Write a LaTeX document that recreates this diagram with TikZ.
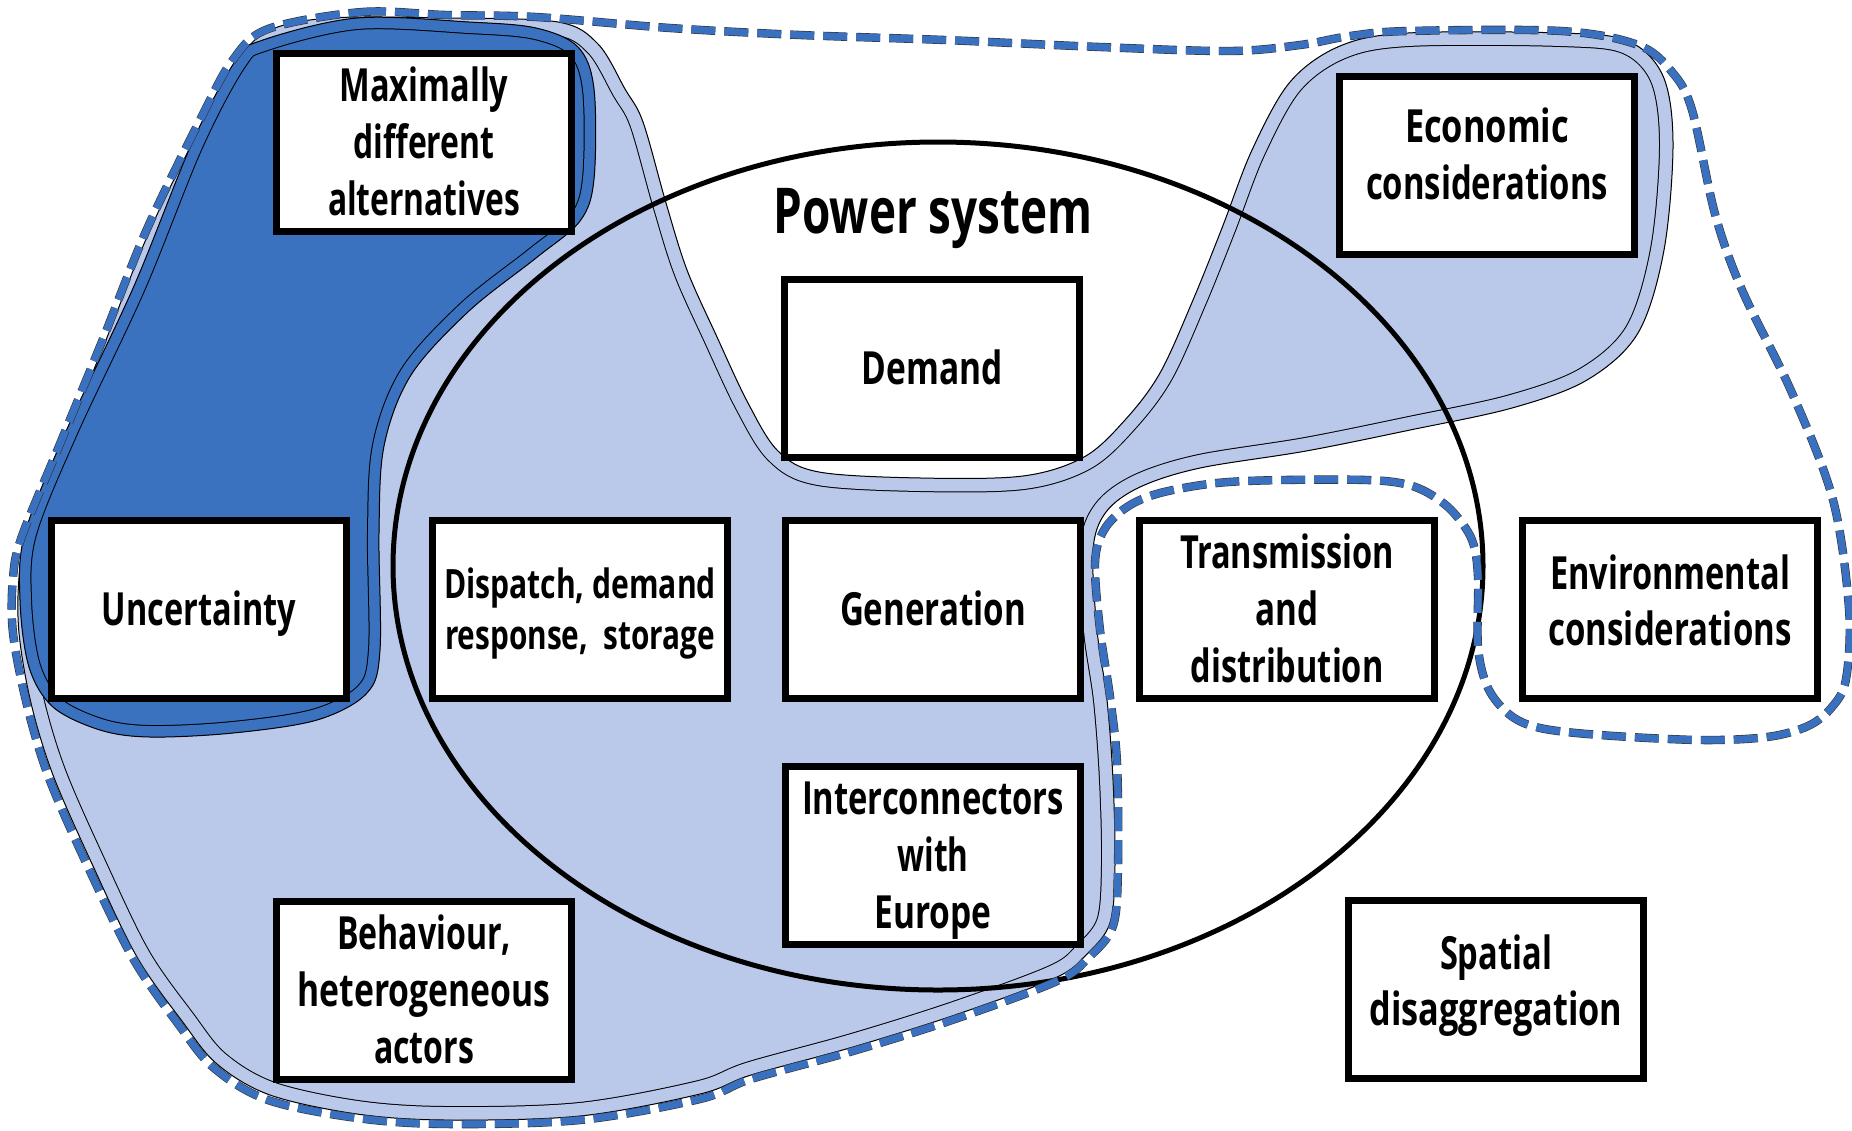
\documentclass[tikz,border=0pt]{standalone}
\usepackage{fontspec}
\setmainfont{Open Sans}
\usepackage{graphicx}
% one text line squeezed to a given width, keeping its height;
% a fixed strut keeps every line the same height and depth
\newcommand\fw[2]{\rule[-0.05em]{0pt}{0.82em}\smash{\resizebox{#1}{\height}{#2}}}

\definecolor{lightblue}{RGB}{186,200,233}
\definecolor{darkblue}{RGB}{58,114,192}
\definecolor{dashblue}{RGB}{58,112,192}

\tikzset{
  box/.style={draw=black, line width=0.7mm, fill=white,
    minimum width=29.5mm, minimum height=17.8mm, inner sep=0pt,
    align=center, font=\fontsize{13}{16.2}\selectfont\bfseries},
  smallbox/.style={box, font=\fontsize{11.5}{14.5}\selectfont\bfseries},
  titletext/.style={inner sep=0pt, font=\fontsize{18}{20}\selectfont\bfseries},
  edge line/.style={draw=black, line width=0.1mm, line join=round},
  dashline/.style={draw=dashblue, line width=0.72mm, dash pattern=on 2.4mm off 0.9mm},
  dashrim/.style={draw=black!80, line width=0.84mm, dash pattern=on 2.4mm off 0.9mm},
  ring/.style={draw=black, line width=0.5mm},
}

% outline of the light region (all factors tied to the power system)
\def\lightpath{plot[smooth cycle, tension=0.55] coordinates {
(268,31) (330,18) (450,18) (558,22) (598,44) (625,89) (643,122) (666,203)
(687,270) (717,337) (748,403) (778,451) (819,472) (921,478) (1023,476)
(1084,457) (1125,420) (1160,373) (1193,300) (1222,228) (1252,150) (1290,82)
(1340,46) (1408,33) (1561,33) (1628,41) (1663,76) (1673,143) (1664,250)
(1638,333) (1587,380) (1512,408) (1410,430) (1306,451) (1200,468) (1140,487)
(1106,512) (1093,550) (1097,630) (1107,700) (1113,780) (1115,865) (1110,923)
(1086,955) (1055,978) (955,1015) (853,1047) (751,1075) (700,1094) (580,1116)
(446,1120) (357,1114) (270,1095) (217,1064) (182,1021) (137,957) (93,866)
(53,775) (31,703) (19,633) (19,578) (27,537) (65,440) (106,340) (150,230)
(204,120) (235,64)}}

% outline of the dark region (uncertainty and alternatives)
\def\darkpath{plot[smooth cycle, tension=0.55] coordinates {
(263,40) (357,18) (469,22) (536,28) (578,47) (594,89) (594,179) (580,221)
(536,258) (469,311) (411,375) (384,446) (379,533) (380,650) (367,693)
(317,720) (233,733) (150,737) (100,730) (53,707) (29,667) (20,600)
(25,533) (67,429) (134,286) (192,143) (236,60)}}

% dashed boundary
\def\dashpath{plot[smooth cycle, tension=0.55] coordinates {
(268,29) (362,12) (446,15) (536,17) (670,28) (800,35) (945,40) (1100,47)
(1230,51) (1300,45) (1350,36) (1408,31) (1561,31) (1638,45) (1672,72)
(1692,110) (1715,214) (1742,290) (1792,393) (1833,500) (1849,609)
(1846,679) (1832,707) (1808,726) (1767,737) (1700,740) (1600,735)
(1540,728) (1510,715) (1488,688) (1478,647) (1478,577) (1472,540)
(1453,512) (1430,494) (1405,484) (1367,480) (1283,480) (1217,483)
(1160,493) (1127,507) (1104,530) (1095,563) (1100,630) (1110,697)
(1117,763) (1118,865) (1113,926) (1088,958) (1057,981) (955,1019)
(853,1051) (751,1079) (700,1099) (580,1120) (446,1124) (357,1118)
(268,1100) (214,1068) (179,1025) (134,960) (89,869) (49,778) (27,705)
(13,633) (13,578) (22,536) (62,439) (103,339) (147,229) (201,118) (232,61)}}

\begin{document}
\begin{tikzpicture}[x=0.1mm, y=-0.1mm]
\useasboundingbox (0,0) rectangle (1852,1130);
\fill[white] (0,0) rectangle (1852,1130);

% light region with an inner rim line
\begin{scope}
  \clip \lightpath;
  \fill[lightblue] \lightpath;
  \draw[black, line width=2.8mm, line join=round] \lightpath;
  \draw[lightblue, line width=2.6mm, line join=round] \lightpath;
\end{scope}
\draw[edge line] \lightpath;

% dark region with an inner rim line
\begin{scope}
  \clip \darkpath;
  \fill[darkblue] \darkpath;
  \draw[black, line width=2.4mm, line join=round] \darkpath;
  \draw[darkblue, line width=2.2mm, line join=round] \darkpath;
\end{scope}
\draw[edge line] \darkpath;

% power system ellipse
\draw[ring] (938,566) ellipse [x radius=54.5mm, y radius=42.4mm];

% dashed boundary
\draw[dashrim] \dashpath;
\draw[dashline] \dashpath;

% title
\node[titletext, anchor=base] (ps) at (933,233) {\fw{31.9mm}{Power system}};

% factor boxes
\node[box] (max) at (424,142) {\fw{16.9mm}{Maximally}\\\fw{14.1mm}{different}\\\fw{19.2mm}{alternatives}};
\node[box] (econ) at (1487,165) {\fw{16.4mm}{Economic}\\\fw{24.2mm}{considerations}\\[-9.4pt]\mbox{}};
\node[box] (demand) at (932,368) {\fw{14.1mm}{Demand}};
\node[box] (unc) at (199,609) {\fw{19.4mm}{Uncertainty}};
\node[smallbox] (disp) at (580,609) {\fw{27.2mm}{Dispatch, demand}\\\fw{27.0mm}{response,\ \ storage}};
\node[box] (gen) at (933,609) {\fw{18.6mm}{Generation}};
\node[box] (trans) at (1287,609) {\fw{21.4mm}{Transmission}\\\fw{6.3mm}{and}\\\fw{19.3mm}{distribution}};
\node[box] (env) at (1670,609) {\fw{24.0mm}{Environmental}\\\fw{24.3mm}{considerations}\\[-11pt]\mbox{}};
\node[box] (inter) at (933,855) {\fw{26.2mm}{Interconnectors}\\\fw{7.1mm}{with}\\\fw{11.7mm}{Europe}};
\node[box] (behav) at (424,990) {\fw{17.4mm}{Behaviour,}\\\fw{25.3mm}{heterogeneous}\\\fw{10.0mm}{actors}};
\node[box] (spat) at (1496,989) {\fw{11.2mm}{Spatial}\\\fw{25.3mm}{disaggregation}\\[-11pt]\mbox{}};
\end{tikzpicture}
\end{document}
